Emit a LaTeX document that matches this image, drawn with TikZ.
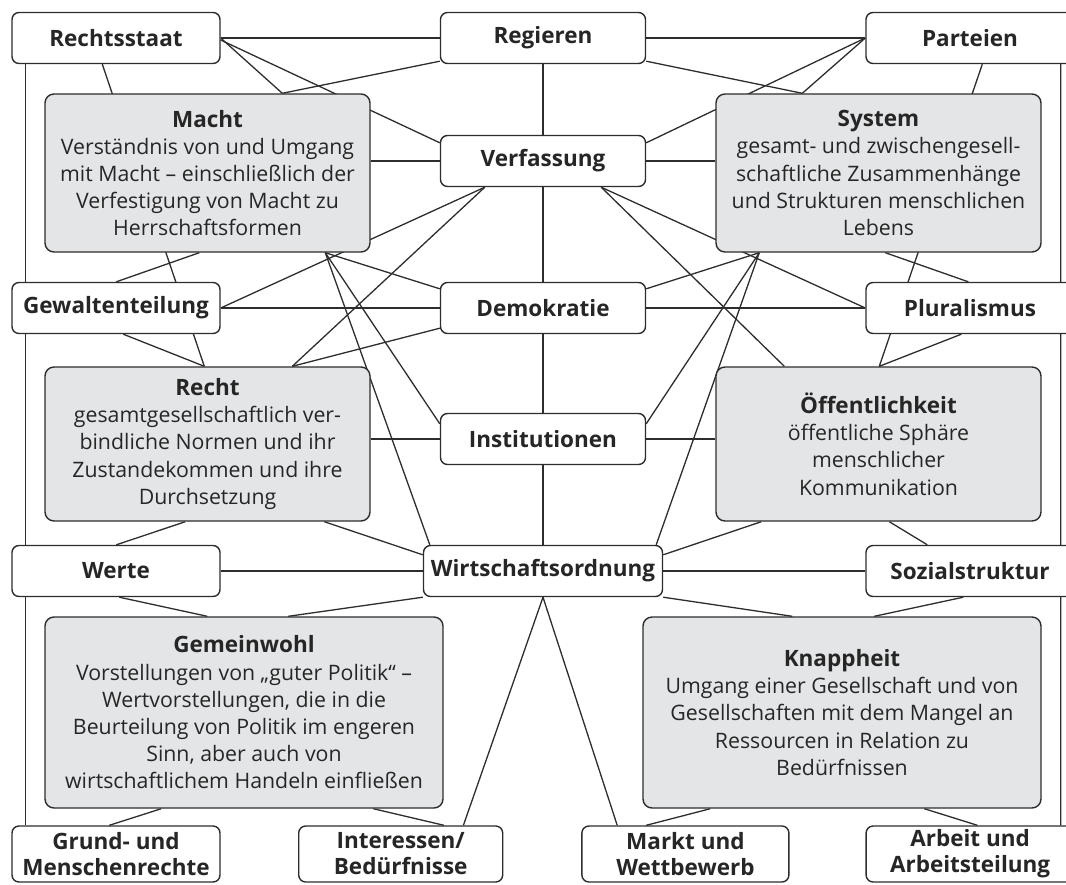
\documentclass[tikz,border=0pt]{standalone}
\usepackage{fontspec}
\setmainfont{Open Sans}
\usepackage{tikz}
\usetikzlibrary{positioning, calc, backgrounds}
\definecolor{linegrey}{RGB}{45,45,45}
\definecolor{boxgrey}{RGB}{228,229,231}
\definecolor{textgrey}{RGB}{38,38,38}
\newcommand{\konzept}[1]{{\fontsize{22.5}{27}\selectfont\textbf{#1}}}

\begin{document}
\begin{tikzpicture}[
				x=1pt, y=-1pt,
				node distance=427pt,
				every node/.style={text=textgrey},
				fachbox/.style={draw=linegrey, line width=1.4pt, rounded corners=7pt, fill=white, minimum width=208pt, minimum height=51pt, inner sep=0pt, align=center, font=\fontsize{22.5}{26}\selectfont\bfseries},
				basisbox/.style={draw=linegrey, line width=1.4pt, rounded corners=9pt, fill=boxgrey, inner sep=0pt, align=center, font=\fontsize{21.3}{27.2}\selectfont},
				link/.style={color=linegrey, line width=1.3pt}]

			\useasboundingbox (0,0) rectangle (1066,884);

			% Fachkonzepte
			\node[fachbox] (rechtsstaat) at (116,38) {Rechtsstaat};
			\node[fachbox, minimum width=205pt, right of=rechtsstaat] (regieren) {Regieren};
			\node[fachbox, right of=regieren] (parteien) {Parteien};
			\node[fachbox, minimum width=205pt] (verfassung) at (543,161) {Verfassung};
			\node[fachbox] (gewaltenteilung) at (116,308) {Gewaltenteilung};
			\node[fachbox, minimum width=205pt, right of=gewaltenteilung] (demokratie) {Demokratie};
			\node[fachbox, right of=demokratie] (pluralismus) {Pluralismus};
			\node[fachbox, minimum width=205pt] (institutionen) at (543,439) {Institutionen};
			\node[fachbox] (werte) at (116,571) {Werte};
			\node[fachbox, minimum width=239pt, right of=werte] (wirtschaftsordnung) {Wirtschaftsordnung};
			\node[fachbox, right of=wirtschaftsordnung] (sozialstruktur) {Sozialstruktur};
			\node[fachbox, minimum height=56pt] (menschenrechte) at (116,854) {Grund- und\\Menschenrechte};
			\node[fachbox, minimum height=56pt, minimum width=204pt, node distance=284.7pt, right of=menschenrechte] (beduerfnisse) {Interessen/\\Bedürfnisse};
			\node[fachbox, minimum height=56pt, minimum width=207pt, node distance=284.7pt, right of=beduerfnisse] (markt) {Markt und\\Wettbewerb};
			\node[fachbox, minimum height=56pt, node distance=284.7pt, right of=markt] (arbeitsteilung) {Arbeit und\\Arbeitsteilung};

			% Basiskonzepte
			\node[basisbox, minimum width=325pt, minimum height=158pt] (macht) at (207.5,173) {\konzept{Macht}\\Verständnis von und Umgang\\mit Macht – einschließlich der\\Verfestigung von Macht zu\\Herrschaftsformen};
			\node[basisbox, minimum width=325pt, minimum height=158pt] (system) at (878.5,173) {\konzept{System}\\gesamt- und zwischengesell-\\schaftliche Zusammenhänge\\und Strukturen menschlichen\\Lebens};
			\node[basisbox, minimum width=325pt, minimum height=154pt] (recht) at (207.5,444) {\konzept{Recht}\\gesamtgesellschaftlich ver-\\bindliche Normen und ihr\\Zustandekommen und ihre\\Durchsetzung};
			\node[basisbox, minimum width=325pt, minimum height=154pt] (oeffentlichkeit) at (878.5,444) {\konzept{Öffentlichkeit}\\öffentliche Sphäre\\menschlicher\\Kommunikation};
			\node[basisbox, minimum width=398pt, minimum height=191pt] (gemeinwohl) at (244,712.5) {\konzept{Gemeinwohl}\\Vorstellungen von „guter Politik“ –\\Wertvorstellungen, die in die\\Beurteilung von Politik im engeren\\Sinn, aber auch von\\wirtschaftlichem Handeln einfließen};
			\node[basisbox, minimum width=398pt, minimum height=191pt] (knappheit) at (842,712.5) {\konzept{Knappheit}\\Umgang einer Gesellschaft und von\\Gesellschaften mit dem Mangel an\\Ressourcen in Relation zu\\Bedürfnissen};

			\coordinate (macht_top) at ($(macht.north west)+(238,0)$);
			\coordinate (system_top) at ($(system.north west)+(87,0)$);
			\coordinate (macht_bottom) at ($(macht.south west)+(281,0)$);
			\coordinate (system_bottom) at ($(system.south west)+(44,0)$);
			\coordinate (verfassung_sw) at ($(verfassung.south west)+(45,0)$);
			\coordinate (verfassung_se) at ($(verfassung.south east)+(-45,0)$);
			\coordinate (recht_top) at ($(recht.north west)+(248,0)$);
			\coordinate (recht_top_links) at ($(recht.north west)+(160,0)$);
			\coordinate (oeff_top) at ($(oeffentlichkeit.north west)+(69,0)$);
			\coordinate (oeff_top_rechts) at ($(oeffentlichkeit.north west)+(164,0)$);

			\begin{pgfonlayer}{background}
			\begin{scope}[link]
			% waagerecht
			\draw	(rechtsstaat.east) edge (regieren.west);
			\draw	(regieren.east) edge (parteien.west);
			\draw	(verfassung.west -| macht.east) edge (verfassung.west);
			\draw	(verfassung.east) edge (verfassung.east -| system.west);
			\draw	(gewaltenteilung.east) edge (demokratie.west);
			\draw	(demokratie.east) edge (pluralismus.west);
			\draw	(institutionen.west -| recht.east) edge (institutionen.west);
			\draw	(institutionen.east) edge (institutionen.east -| oeffentlichkeit.west);
			\draw	(werte.east) edge (wirtschaftsordnung.west);
			\draw	(wirtschaftsordnung.east) edge (sozialstruktur.west);

			% senkrecht
			\draw	($(rechtsstaat.south west)+(14,0)$) edge ($(menschenrechte.north west)+(14,0)$);
			\draw	($(parteien.south east)+(-14,0)$) edge ($(arbeitsteilung.north east)+(-14,0)$);
			\draw	(regieren.south) edge (wirtschaftsordnung.north);

			% Macht und Recht
			\draw	(rechtsstaat.east) edge (macht_top);
			\draw	($(regieren.south west)+(0,-3)$) edge (macht_top);
			\draw	($(rechtsstaat.east)+(0,2)$) edge ($(verfassung.north west)+(0,8)$);
			\draw	($(rechtsstaat.south west)+(91,0)$) edge (recht_top_links);
			\draw	($(gewaltenteilung.north west)+(105,0)$) edge ($(macht.south west)+(155,0)$);
			\draw	(macht_bottom) edge ($(demokratie.north west)+(0,7)$);
			\draw	(macht_bottom) edge ($(institutionen.north west)+(0,11)$);
			\draw	(macht_bottom) edge ($(wirtschaftsordnung.north west)+(7,0)$);
			\draw	(gewaltenteilung.east) edge (verfassung_sw);
			\draw	(verfassung_sw) edge (recht_top);
			\draw	($(demokratie.south west)+(0,-6)$) edge (recht_top);
			\draw	($(gewaltenteilung.south west)+(112,0)$) edge (recht_top_links);

			% System und Oeffentlichkeit
			\draw	($(regieren.south east)+(0,-3)$) edge (system_top);
			\draw	(parteien.west) edge (system_top);
			\draw	(parteien.west) edge ($(verfassung.north east)+(0,8)$);
			\draw	($(parteien.south west)+(117,0)$) edge (oeff_top_rechts);
			\draw	($(pluralismus.north west)+(103,0)$) edge ($(system.south west)+(170,0)$);
			\draw	(system_bottom) edge ($(demokratie.north east)+(0,7)$);
			\draw	(system_bottom) edge ($(institutionen.north east)+(0,11)$);
			\draw	(system_bottom) edge ($(wirtschaftsordnung.north east)+(-7,0)$);
			\draw	(pluralismus.west) edge (verfassung_se);
			\draw	(verfassung_se) edge (oeff_top);
			\draw	($(pluralismus.south west)+(96,0)$) edge (oeff_top_rechts);

			% Recht und Oeffentlichkeit nach unten
			\draw	($(recht.south west)+(141,0)$) edge ($(werte.north west)+(105,0)$);
			\draw	($(recht.south west)+(280,0)$) edge ($(wirtschaftsordnung.north west)+(0,10)$);
			\draw	($(oeffentlichkeit.south west)+(46,0)$) edge ($(wirtschaftsordnung.north east)+(0,10)$);
			\draw	($(oeffentlichkeit.south west)+(174,0)$) edge ($(sozialstruktur.north west)+(62,0)$);

			% Gemeinwohl und Knappheit
			\draw	($(werte.south west)+(108,0)$) edge ($(gemeinwohl.north west)+(163,0)$);
			\draw	(wirtschaftsordnung.south west) edge ($(gemeinwohl.north west)+(244,0)$);
			\draw	(wirtschaftsordnung.south east) edge ($(knappheit.north west)+(150,0)$);
			\draw	($(sozialstruktur.south west)+(98,0)$) edge ($(knappheit.north west)+(232,0)$);
			\draw	(wirtschaftsordnung.south) edge ($(beduerfnisse.north east)+(-40,0)$);
			\draw	(wirtschaftsordnung.south) edge ($(markt.north west)+(36,0)$);
			\draw	($(gemeinwohl.south west)+(117,0)$) edge ($(menschenrechte.north west)+(98,0)$);
			\draw	($(gemeinwohl.south west)+(329,0)$) edge ($(beduerfnisse.north west)+(146,0)$);
			\draw	($(knappheit.south west)+(68,0)$) edge ($(markt.north west)+(65,0)$);
			\draw	($(knappheit.south west)+(282,0)$) edge ($(arbeitsteilung.north west)+(112,0)$);
			\end{scope}
			\end{pgfonlayer}
		\end{tikzpicture}
\end{document}
